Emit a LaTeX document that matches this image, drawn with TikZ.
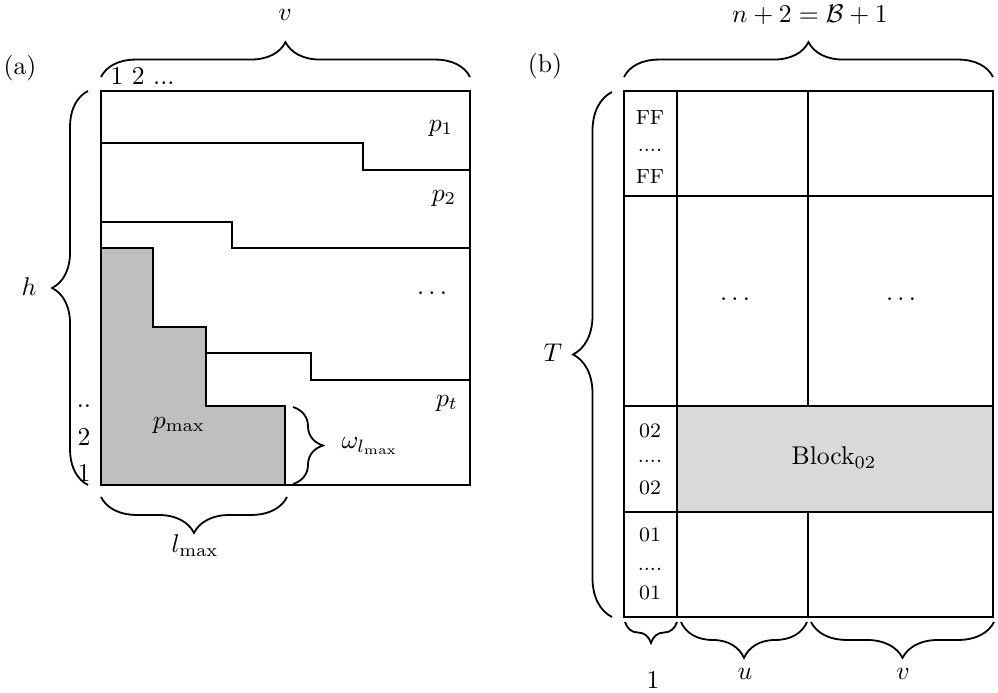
\documentclass[tikz,border=0pt]{standalone}
\usetikzlibrary{decorations.pathreplacing}
\begin{document}
\begin{tikzpicture}[x=0.39pt,y=-0.39pt,
  frame/.style={line width=0.8pt},
  bracedeco/.style={decorate,decoration={brace,amplitude=#1},line width=0.7pt},
  lbl/.style={inner sep=0pt},
  small/.style={inner sep=0pt,font=\footnotesize}]
\useasboundingbox (0,0) rectangle (998,693);
% ---------- panel (a) ----------
\fill[gray!50] (101,248) -- (153,248) -- (153,327) -- (206,327) -- (206,406) -- (285,406) -- (285,485) -- (101,485) -- cycle;
\draw[frame] (101,248) -- (153,248) -- (153,327) -- (206,327) -- (206,406) -- (285,406) -- (285,485);
\draw[frame] (101,143) -- (363,143) -- (363,170) -- (470,170);
\draw[frame] (101,222) -- (232,222) -- (232,248) -- (470,248);
\draw[frame] (206,353) -- (311,353) -- (311,380) -- (470,380);
\draw[frame] (101,91) rectangle (470,485);
\draw[bracedeco=13.6pt] (101,77) -- (470,77);
\draw[bracedeco=14pt] (88,485) -- (88,91);
\draw[bracedeco=11.7pt] (293,407) -- (293,484);
\draw[bracedeco=14pt] (287,497) -- (101,497);
\node[lbl] (va) at (285,15) {$v$};
\node[lbl] (lab-a) at (20,68) {(a)};
\node[lbl,anchor=base west] (cols) at (110,84) {1 2 ...};
\node[lbl] (p1) at (441,128) {$p_1$};
\node[lbl] (p2) at (444,198) {$p_2$};
\node[lbl] (pd) at (432,293) {$\dots$};
\node[lbl] (pt) at (447,403) {$p_t$};
\node[lbl] (pmax) at (179,425) {$p_{\max}$};
\node[lbl] (om) at (370,446) {$\omega_{l_{\max}}$};
\node[lbl] (h) at (29,287) {$h$};
\node[lbl] (lmax) at (195,546) {$l_{\max}$};
\node[lbl,anchor=base] (rdd) at (84,408) {..};
\node[lbl] (r2) at (84,437) {2};
\node[lbl] (r1) at (84,473) {1};
% ---------- panel (b) ----------
\fill[gray!30] (677,406) rectangle (993,512);
\draw[frame] (624,196) -- (993,196);
\draw[frame] (624,406) -- (993,406);
\draw[frame] (624,512) -- (993,512);
\draw[frame] (677,91) -- (677,617);
\draw[frame] (808,91) -- (808,406);
\draw[frame] (808,512) -- (808,617);
\draw[frame] (624,91) rectangle (993,617);
\draw[bracedeco=13.6pt] (624,77) -- (993,77);
\draw[bracedeco=15.2pt] (612,617) -- (612,92);
\draw[bracedeco=8.2pt] (677,622) -- (625,622);
\draw[bracedeco=14pt] (807,622) -- (681,622);
\draw[bracedeco=14pt] (994,622) -- (811,622);
\node[lbl] (nb) at (810,15) {$n+2=\mathcal{B}+1$};
\node[lbl] (lab-b) at (545,66) {(b)};
\node[lbl] (T) at (553,353) {$T$};
\node[small] (ff1) at (650,118) {FF};
\node[small,anchor=base] (ffd) at (650,151) {....};
\node[small] (ff2) at (650,177) {FF};
\node[small] (a1) at (650,431) {02};
\node[small,anchor=base] (ad) at (650,463) {....};
\node[small] (a2) at (650,488) {02};
\node[small] (b1) at (650,535) {01};
\node[small,anchor=base] (bd) at (650,570) {....};
\node[small] (b2) at (650,593) {01};
\node[lbl] (cd1) at (735,299) {$\dots$};
\node[lbl] (cd2) at (901,299) {$\dots$};
\node[lbl] (blk) at (834,458) {Block$_{02}$};
\node[lbl] (one) at (653,680) {1};
\node[lbl] (u) at (745,674) {$u$};
\node[lbl] (vb) at (903,674) {$v$};
\end{tikzpicture}
\end{document}
